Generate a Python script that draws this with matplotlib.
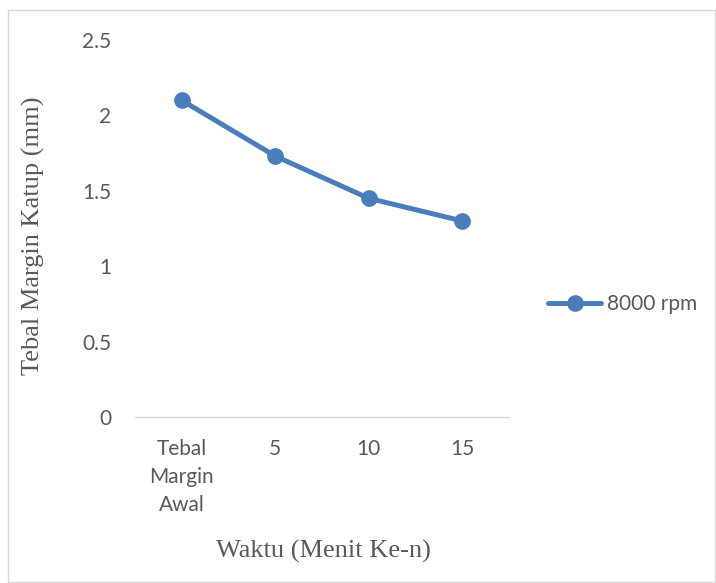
import matplotlib.pyplot as plt
from matplotlib.patches import Rectangle

# data
waktu = ["Tebal\nMargin\nAwal", "5", "10", "15"]
tebal_8000 = [2.1, 1.73, 1.45, 1.3]
y_ticks = [0, 0.5, 1, 1.5, 2, 2.5]
y_tick_labels = ["0", "0.5", "1", "1.5", "2", "2.5"]

blue = "#4A7EBB"
grey = "#595959"
tick_font = "Lato"
label_font = "Liberation Serif"

fig = plt.figure(figsize=(7.16, 5.83), dpi=100)
ax = fig.add_axes([0.1885, 0.2847, 0.5225, 0.6467])

x = list(range(len(waktu)))
ax.plot(x, tebal_8000, color=blue, linewidth=3.6, marker="o", markersize=11,
        label="8000 rpm", solid_capstyle="round")

ax.set_xlim(-0.5, len(waktu) - 0.5)
ax.set_ylim(0, 2.5)
ax.set_yticks(y_ticks)
ax.set_yticklabels(y_tick_labels, fontfamily=tick_font, fontsize=15, color=grey)
ax.set_xticks(x)
ax.set_xticklabels(waktu, fontfamily=tick_font, fontsize=15, color=grey,
                   linespacing=1.5, va="top")
ax.tick_params(axis="both", length=0)
ax.tick_params(axis="y", pad=17)
ax.tick_params(axis="x", pad=16)

for s in ["top", "right", "left"]:
    ax.spines[s].set_visible(False)
ax.spines["bottom"].set_color("#D9D9D9")
ax.spines["bottom"].set_linewidth(1)

ax.set_xlabel("Waktu (Menit Ke-n)", fontfamily=label_font, fontsize=19, color=grey)
ax.xaxis.set_label_coords(0.503, -0.326)
ax.set_ylabel("Tebal Margin Katup (mm)", fontfamily=label_font, fontsize=19, color=grey)
ax.yaxis.set_label_coords(-0.24, 0.48)

leg = ax.legend(loc="center left", bbox_to_anchor=(1.083, 0.30), frameon=False,
                handlelength=2.5, handletextpad=0.3, borderaxespad=0,
                prop={"family": tick_font, "size": 15})
for t in leg.get_texts():
    t.set_color(grey)

# chart border
fig.patches.append(Rectangle((8 / 716, 0.002), 1 - 8 / 716 - 0.002, 1 - 10 / 583 - 0.002,
                             transform=fig.transFigure, fill=False,
                             edgecolor="#D9D9D9", linewidth=1))

fig.savefig("out.png", dpi=100)
